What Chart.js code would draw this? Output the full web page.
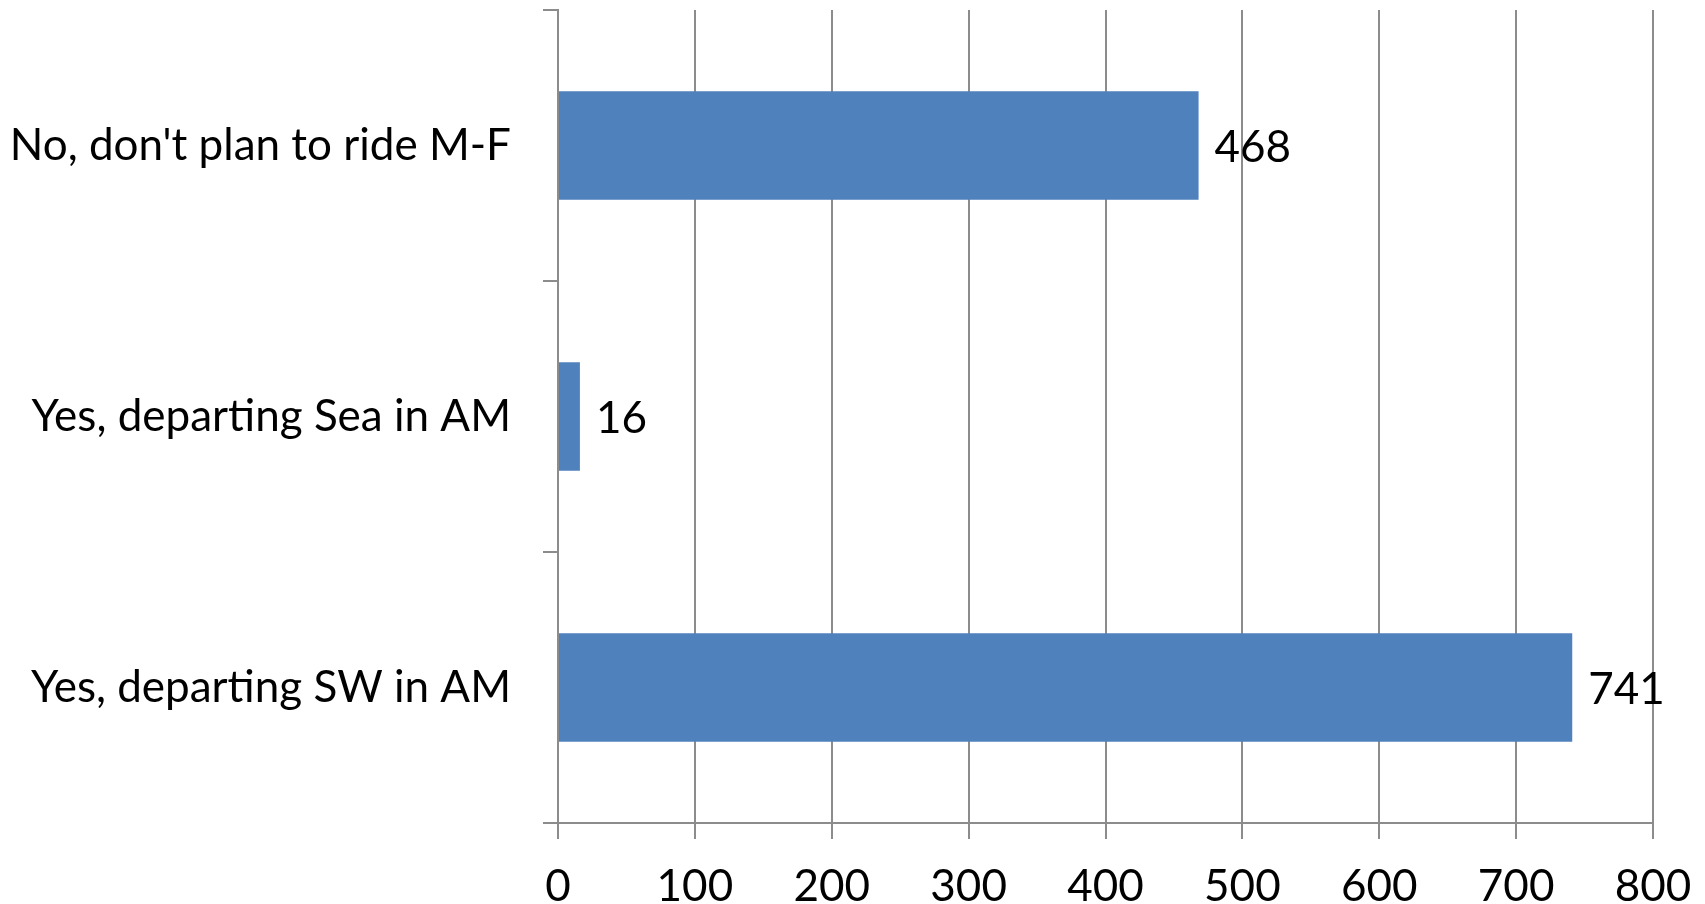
<!DOCTYPE html>
<html>
<head>
<meta charset="utf-8">
<script src="https://cdn.jsdelivr.net/npm/chart.js@4.4.0/dist/chart.umd.min.js"></script>
<style>
    html, body { margin: 0; padding: 0; background: #ffffff; }
    .wrap { width: 1705px; height: 904px; }
</style>
</head>
<body>
<div class="wrap">
    <canvas id="answer_chart" width="1705" height="904"></canvas>
</div>
<script>
// data
const categories = ["No, don't plan to ride M-F", "Yes, departing Sea in AM", "Yes, departing SW in AM"];
const answers = [468, 16, 741];
const xTicks = [0, 100, 200, 300, 400, 500, 600, 700, 800];

const FONT = "Lato, 'Open Sans', sans-serif";
const GRID = "#8c8c8c";

/* number next to the end of each bar */
const valueLabels = {
    id: 'valueLabels',
    afterDatasetsDraw(chart) {
        const ctx = chart.ctx;
        const meta = chart.getDatasetMeta(0);
        ctx.save();
        ctx.font = "44px " + FONT;
        ctx.fillStyle = "#000000";
        ctx.textAlign = "left";
        ctx.textBaseline = "middle";
        meta.data.forEach((bar, i) => {
            ctx.fillText(String(answers[i]), bar.x + 16, bar.y + 2);
        });
        ctx.restore();
    }
};

let ctx = document.getElementById('answer_chart');

new Chart(ctx, {
    type: 'bar',
    data: {
        labels: categories,
        datasets: [{
            data: answers,
            backgroundColor: "#4f81bd",
            borderWidth: 0,
            barPercentage: 0.4,
            categoryPercentage: 1.0
        }]
    },
    options: {
        indexAxis: 'y',
        responsive: false,
        animation: false,
        layout: { padding: { top: 10, right: 52, left: 0, bottom: 0 } },
        plugins: {
            legend: { display: false },
            tooltip: { enabled: false }
        },
        scales: {
            x: {
                min: 0,
                max: 800,
                afterBuildTicks(scale) {
                    scale.ticks = xTicks.map(v => ({ value: v }));
                },
                afterFit(scale) {
                    scale.height = 81;
                    scale.paddingLeft = 0;
                    scale.paddingRight = 0;
                },
                grid: {
                    color: GRID,
                    lineWidth: 2,
                    tickLength: 16,
                    drawTicks: true
                },
                border: { display: true, color: GRID, width: 2 },
                ticks: {
                    color: "#000000",
                    padding: 21,
                    font: { family: FONT, size: 44 }
                }
            },
            y: {
                afterFit(scale) {
                    scale.width = 558;
                    scale.paddingTop = 0;
                    scale.paddingBottom = 0;
                },
                grid: {
                    offset: true,
                    drawOnChartArea: false,
                    color: GRID,
                    lineWidth: 2,
                    tickLength: 15
                },
                border: { display: true, color: GRID, width: 2 },
                ticks: {
                    color: "#000000",
                    padding: 32,
                    font: { family: FONT, size: 44 }
                }
            }
        }
    },
    plugins: [valueLabels]
});
</script>
</body>
</html>
